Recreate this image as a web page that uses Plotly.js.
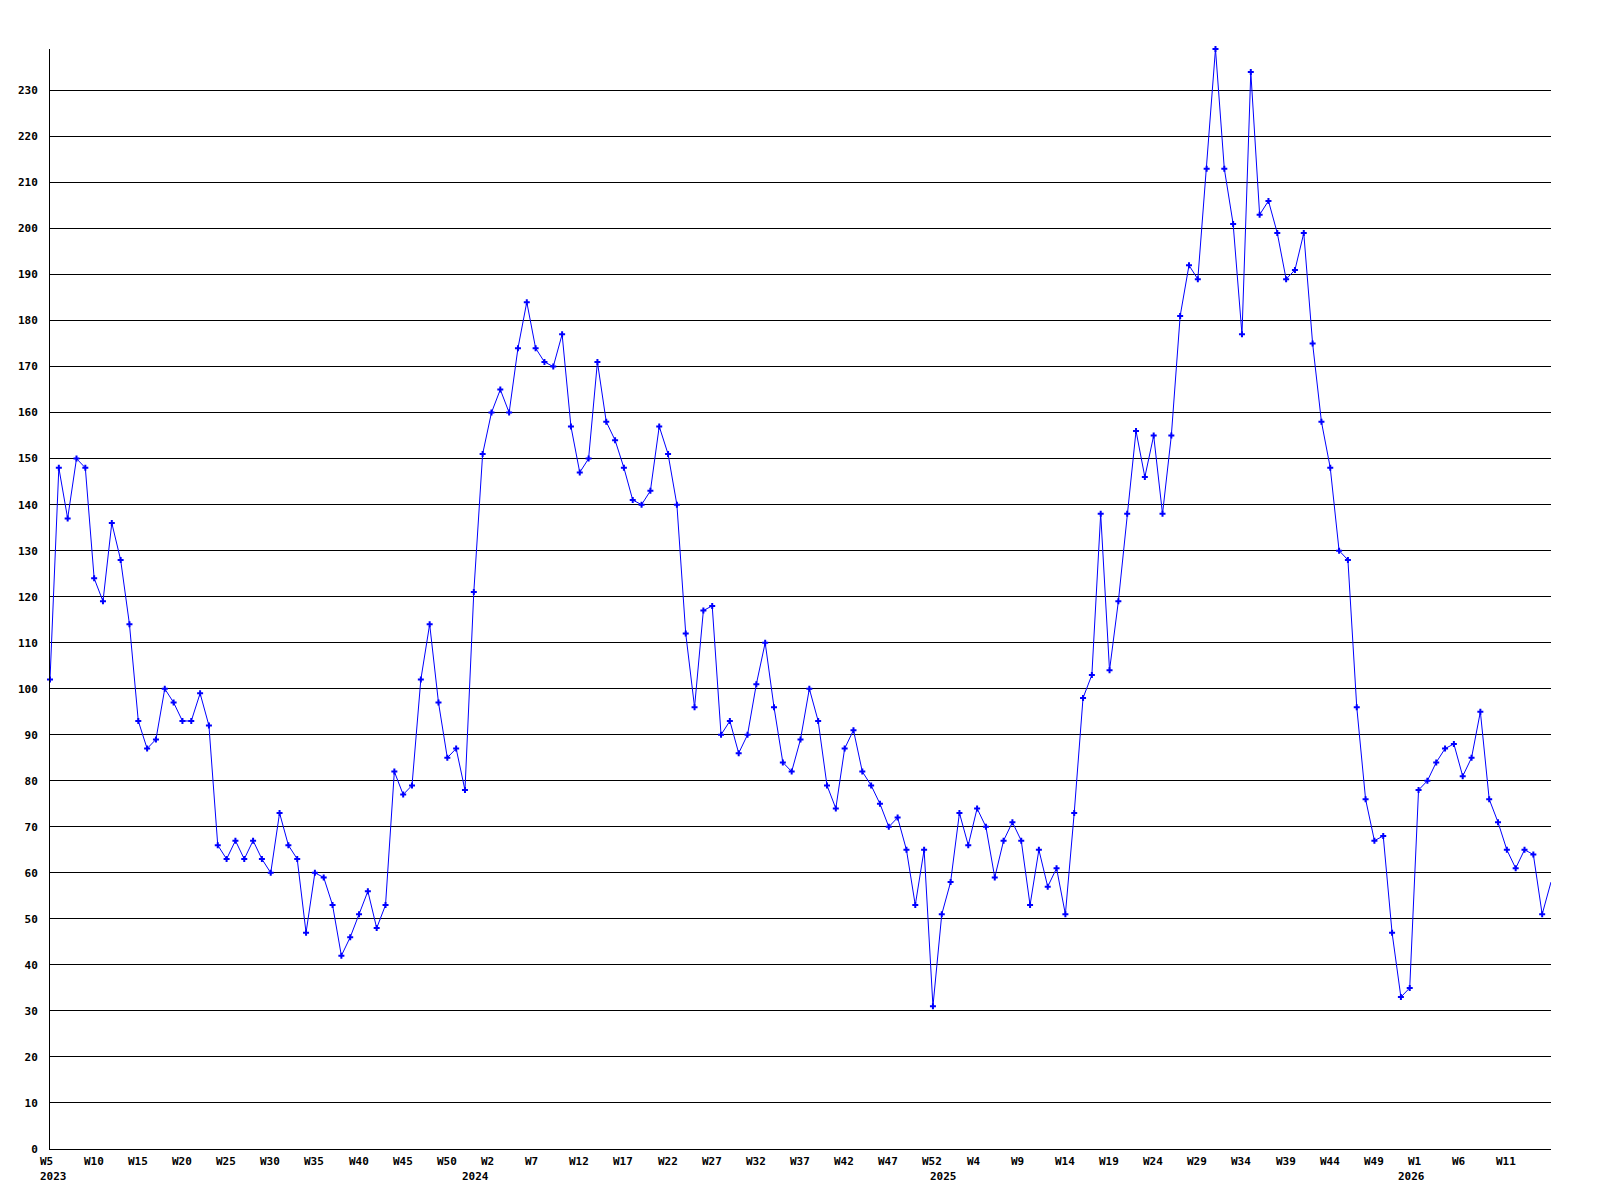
<!DOCTYPE html>
<html><head><meta charset="utf-8">
<script src="https://cdn.plot.ly/plotly-3.0.1.min.js"></script>
<style>html,body{margin:0;padding:0;background:#fff}</style>
</head><body><div id="chart" style="width:1600px;height:1200px"></div>
<script>
// Weekly values, 2023 W5 .. 2026 W16 (one point per week)
const values = [
  102,148,137,150,148,124,119,136,128,114,93,87,89,100,97,93,93,99,92,66,
  63,67,63,67,63,60,73,66,63,47,60,59,53,42,46,51,56,48,53,82,
  77,79,102,114,97,85,87,78,121,151,160,165,160,174,184,174,171,170,177,157,
  147,150,171,158,154,148,141,140,143,157,151,140,112,96,117,118,90,93,86,90,
  101,110,96,84,82,89,100,93,79,74,87,91,82,79,75,70,72,65,53,65,
  31,51,58,73,66,74,70,59,67,71,67,53,65,57,61,51,73,98,103,138,
  104,119,138,156,146,155,138,155,181,192,189,213,239,213,201,177,234,203,206,199,
  189,191,199,175,158,148,130,128,96,76,67,68,47,33,35,78,80,84,87,88,
  81,85,95,76,71,65,61,65,64,51,58
];
// x tick labels (one label every 5 points)
const tickIndex = [0,5,10,15,20,25,30,35,40,45,50,55,60,65,70,75,80,85,90,95,100,105,110,115,120,125,130,135,140,145,150,155,160,165];
const tickText = ['W5','W10','W15','W20','W25','W30','W35','W40','W45','W50',
  'W2','W7','W12','W17','W22','W27','W32','W37','W42','W47','W52',
  'W4','W9','W14','W19','W24','W29','W34','W39','W44','W49',
  'W1','W6','W11'];
const yearText = ['2023','2024','2025','2026'];
const yearIndex = [0, 48.5, 101.5, 154.5];

const xs = values.map((v, i) => i);
const font = {family: 'DejaVu Sans Mono, Liberation Mono, monospace', size: 11, color: '#000', weight: 'bold'};

const annotations = [];
tickIndex.forEach((ix, k) => {
  annotations.push({x: ix, y: 0, xref: 'x', yref: 'paper', text: tickText[k], showarrow: false,
    xanchor: 'left', yanchor: 'top', xshift: -11.5, yshift: -5, font: font, borderpad: 0});
});
yearText.forEach((t, k) => {
  const first = k === 0;
  annotations.push({x: yearIndex[k], y: 0, xref: 'x', yref: 'paper', text: t, showarrow: false,
    xanchor: first ? 'left' : 'center', yanchor: 'top', xshift: first ? -11.5 : -2.5, yshift: -19.5, font: font, borderpad: 0});
});

const traces = [
  {x: xs, y: values, type: 'scatter', mode: 'lines', line: {color: '#0000ff', width: 1}, hoverinfo: 'skip', cliponaxis: true},
  {x: xs.slice(0, -1), y: values.slice(0, -1), type: 'scatter', mode: 'markers',
   marker: {symbol: 'cross', size: 5, color: '#0000ff', line: {width: 0}}, cliponaxis: false}
];

const layout = {
  width: 1600, height: 1200, autosize: false,
  margin: {l: 50, r: 49, t: 49, b: 51, pad: 0},
  paper_bgcolor: '#fff', plot_bgcolor: '#fff',
  showlegend: false,
  font: font,
  xaxis: {range: [0, 170], showgrid: false, zeroline: false, showline: true, linecolor: '#000', linewidth: 1,
          showticklabels: false, ticks: ''},
  yaxis: {range: [0, 239], tick0: 0, dtick: 10, showgrid: true, gridcolor: '#000', gridwidth: 1,
          zeroline: false, showline: true, linecolor: '#000', linewidth: 1, ticks: '',
          ticklabelstandoff: 9, tickfont: font},
  annotations: annotations
};

Plotly.newPlot('chart', traces, layout, {displayModeBar: false, staticPlot: true});
</script>
</body></html>
